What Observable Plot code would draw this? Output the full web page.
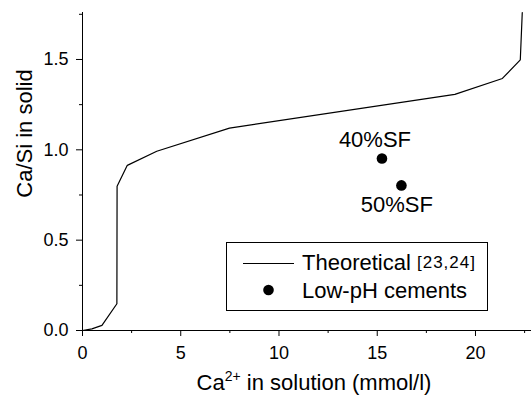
<!DOCTYPE html>
<html><head><meta charset="utf-8">
<script src="https://cdn.jsdelivr.net/npm/d3@7"></script>
<script src="https://cdn.jsdelivr.net/npm/@observablehq/plot@0.6"></script>
<style>html,body{margin:0;padding:0;background:#fff;}</style>
</head><body><div id="chart"></div>
<script>
// Theoretical curve (Ca2+ in solution, Ca/Si in solid)
const theoryCa   = [0, 0.48, 0.99, 1.75, 1.76, 2.28, 3.78, 7.48, 18.95, 21.37, 22.28, 22.38];
const theoryCaSi = [0, 0.009, 0.028, 0.148, 0.798, 0.914, 0.992, 1.12, 1.307, 1.395, 1.498, 1.76];
// Low-pH cements
const sampleNames = ["40%SF", "50%SF"];
const sampleCa    = [15.24, 16.23];
const sampleCaSi  = [0.952, 0.803];
// ticks
const xMajorTicks = [0, 5, 10, 15, 20];
const xMinorTicks = [2.5, 7.5, 12.5, 17.5, 22.5];
const yMajorTicks = [0, 0.5, 1.0, 1.5];
const yMinorTicks = [0.25, 0.75, 1.25, 1.75];
const legendLabels = ["Theoretical", "[23,24]", "Low-pH cements"];
const xTitle = ["Ca", "2+", " in solution (mmol/l)"];
const yTitle = "Ca/Si in solid";

const theory = theoryCa.map((x, i) => ({x, y: theoryCaSi[i]}));
const samples = sampleNames.map((name, i) => ({name, x: sampleCa[i], y: sampleCaSi[i]}));

const FONT = "'Liberation Sans', Arial, Helvetica, sans-serif";

const svgEl = Plot.plot({
  width: 531, height: 396,
  marginLeft: 82, marginRight: 0, marginTop: 12, marginBottom: 66,
  style: {fontFamily: FONT, fontSize: "18px", color: "black", background: "white", overflow: "visible"},
  x: {domain: [0, 22.85]},
  y: {domain: [0, 1.76]},
  marks: [
    Plot.axisX(xMajorTicks, {tickSize: 6, tickPadding: 10, fontSize: 18, tickFormat: d3.format("d"), label: null, stroke: "black", fill: "black", strokeWidth: 1}),
    Plot.axisX(xMinorTicks, {tickSize: 3, tickFormat: () => "", label: null, stroke: "black", strokeWidth: 1}),
    Plot.axisY(yMajorTicks, {tickSize: 6, tickPadding: 8, fontSize: 18, tickFormat: d3.format(".1f"), label: null, stroke: "black", fill: "black", strokeWidth: 1}),
    Plot.axisY(yMinorTicks, {tickSize: 3, tickFormat: () => "", label: null, stroke: "black", strokeWidth: 1}),
    Plot.ruleY([0], {stroke: "black", strokeWidth: 1}),
    Plot.ruleX([0], {stroke: "black", strokeWidth: 1}),
    Plot.line(theory, {x: "x", y: "y", stroke: "black", strokeWidth: 1.2}),
    Plot.dot(samples, {x: "x", y: "y", r: 5.3, fill: "black"}),
    Plot.text(samples.filter(d => d.name === "40%SF"), {x: "x", y: "y", text: "name", dx: -7, dy: -19, fontSize: 22, fill: "black"}),
    Plot.text(samples.filter(d => d.name === "50%SF"), {x: "x", y: "y", text: "name", dx: -4.5, dy: 20, fontSize: 22, fill: "black"})
  ]
});
document.getElementById("chart").appendChild(svgEl);

const svg = d3.select(svgEl);
svg.selectAll('g[aria-label$="tick label"]').style("font-size", "18px").attr("fill", "black")
  .selectAll("text").style("font-size", "18px").style("font-family", FONT);
// x title
const xt = svg.append("text").attr("x", 314).attr("y", 390).attr("text-anchor", "middle")
  .attr("font-size", 22).attr("fill", "black").attr("font-family", FONT);
xt.append("tspan").text(xTitle[0]);
xt.append("tspan").attr("font-size", 14).attr("dy", -9).text(xTitle[1]);
xt.append("tspan").attr("dy", 9).text(xTitle[2]);
// y title
svg.append("text").attr("transform", "translate(32,133.5) rotate(-90)").attr("text-anchor", "middle")
  .attr("font-size", 22).attr("fill", "black").attr("font-family", FONT).text(yTitle);

// legend
const lg = svg.append("g").attr("font-family", FONT).attr("fill", "black").attr("text-anchor", "start");
lg.append("rect").attr("x", 226.5).attr("y", 242.5).attr("width", 261).attr("height", 68)
  .attr("fill", "white").attr("stroke", "black").attr("stroke-width", 1);
lg.append("line").attr("x1", 243).attr("x2", 294).attr("y1", 263.5).attr("y2", 263.5)
  .attr("stroke", "black").attr("stroke-width", 1.2);
const t1 = lg.append("text").attr("x", 302).attr("y", 269.5).attr("font-size", 22).attr("text-anchor", "start");
t1.append("tspan").text(legendLabels[0] + " ");
t1.append("tspan").attr("font-size", 17).attr("dy", -2).attr("letter-spacing", 1).text(legendLabels[1]);
lg.append("circle").attr("cx", 268.5).attr("cy", 290).attr("r", 5.3).attr("fill", "black");
lg.append("text").attr("x", 302).attr("y", 297.5).attr("font-size", 22).attr("text-anchor", "start").text(legendLabels[2]);
</script>
</body></html>
